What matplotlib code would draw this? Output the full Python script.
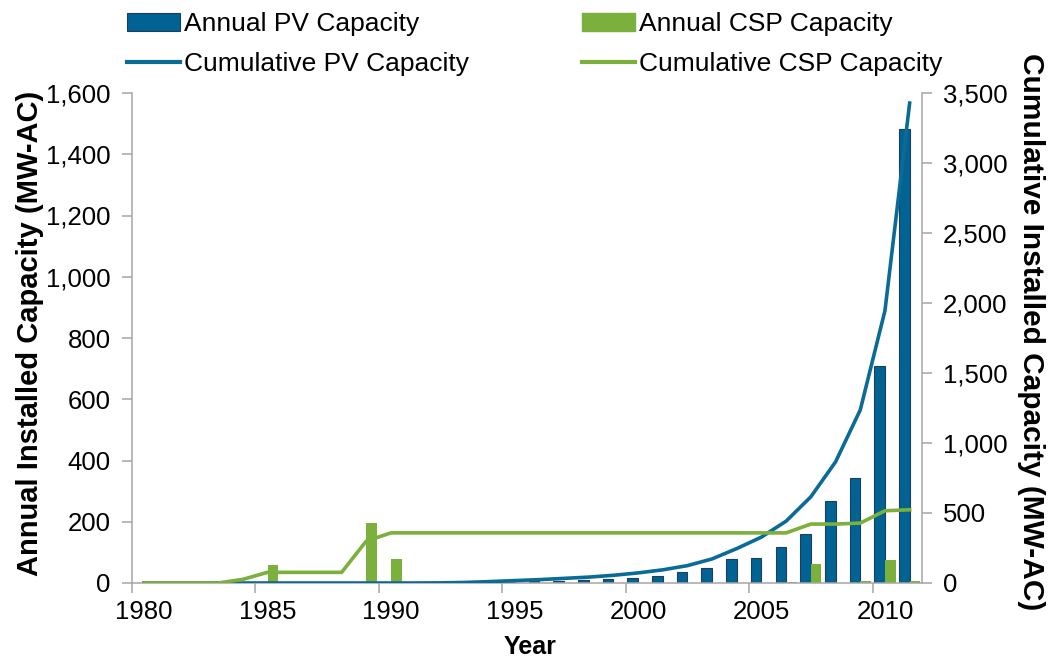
import matplotlib.pyplot as plt
import numpy as np
from matplotlib.patches import Patch
from matplotlib.lines import Line2D
from matplotlib.ticker import FuncFormatter

years = [1980, 1981, 1982, 1983, 1984, 1985, 1986, 1987, 1988, 1989,
         1990, 1991, 1992, 1993, 1994, 1995, 1996, 1997, 1998, 1999,
         2000, 2001, 2002, 2003, 2004, 2005, 2006, 2007, 2008, 2009,
         2010, 2011]

# annual installs, MW-AC (left axis)
annual_pv = [0, 0, 0, 0, 0, 0, 0, 0, 0, 0,
             0, 0, 1, 2, 3, 4, 5, 8, 9, 12,
             15, 24, 36, 49, 78, 82, 117, 161, 267, 343,
             707, 1481]
annual_csp = [0, 0, 0, 0, 0, 59, 0, 0, 0, 197,
              79, 0, 0, 0, 0, 0, 0, 0, 0, 0,
              0, 0, 0, 0, 0, 0, 3, 62, 0, 8,
              76, 8]

# cumulative installs, MW-AC (right axis)
cumulative_pv = [0, 0, 0, 0, 0, 0, 0, 0, 0, 0,
                 0, 0, 1, 4, 10, 17, 24, 33, 42, 55,
                 72, 94, 124, 172, 246, 328, 442, 616, 865, 1236,
                 1945, 3428]
cumulative_csp = [0, 0, 0, 0, 26, 76, 76, 76, 76, 300,
                  358, 358, 358, 358, 358, 358, 358, 358, 358, 358,
                  358, 358, 358, 358, 358, 358, 358, 421, 421, 428,
                  516, 523]

plt.rcParams['font.family'] = ['Liberation Sans', 'DejaVu Sans']

blue = '#006393'
blue_line = '#0B6B97'
blue_edge = '#1E3E5C'
green = '#7AB03B'
grey = '#A6A6A6'

fig = plt.figure(figsize=(10.48, 6.6), dpi=100)
ax = fig.add_axes([131.7 / 1048, 77 / 660, 790.3 / 1048, 490 / 660])
ax2 = ax.twinx()

x = np.arange(len(years))
w = 0.43
ax.bar(x - w / 2, annual_pv, width=w, color=blue, edgecolor=blue_edge,
       linewidth=0.8, zorder=2)
ax.bar(x + w / 2, annual_csp, width=w, color=green, linewidth=0, zorder=2)

ax2.plot(x, cumulative_pv, color=blue_line, lw=2.6)
ax2.plot(x, cumulative_csp, color=green, lw=2.6)

ax.set_xlim(-0.5, len(years) - 0.5)
ax.set_ylim(0, 1600)
ax2.set_ylim(0, 3500)
ax.set_yticks(np.arange(0, 1601, 200))
ax2.set_yticks(np.arange(0, 3501, 500))
comma = FuncFormatter(lambda v, p: f'{int(v):,}')
ax.yaxis.set_major_formatter(comma)
ax2.yaxis.set_major_formatter(comma)

# tick marks sit between categories, labels under every fifth year
label_idx = list(range(0, len(years), 5))
ax.set_xticks([i - 0.5 for i in label_idx])
ax.set_xticklabels([])
ax.set_xticks(label_idx, minor=True)
ax.set_xticklabels([str(years[i]) for i in label_idx], minor=True)

ax.tick_params(axis='x', which='major', direction='out', length=7,
               width=1.1, color=grey)
ax.tick_params(axis='x', which='minor', length=0, pad=12, labelsize=18.5)
ax.tick_params(axis='y', direction='out', length=7, width=1.1, color=grey,
               pad=8, labelsize=18.5)
ax2.tick_params(axis='y', direction='out', length=7, width=1.1, color=grey,
                pad=8, labelsize=18.5)

for s in ['top', 'right']:
    ax.spines[s].set_visible(False)
for s in ['top', 'left', 'bottom']:
    ax2.spines[s].set_visible(False)
for s in ['left', 'bottom']:
    ax.spines[s].set_color(grey)
    ax.spines[s].set_linewidth(1.1)
ax2.spines['right'].set_color(grey)
ax2.spines['right'].set_linewidth(1.1)

fig.text(30 / 1048, 1 - 333 / 660, 'Annual Installed Capacity (MW-AC)',
         rotation=90, ha='center', va='center', fontsize=21, fontweight='bold')
fig.text(1031 / 1048, 1 - 332 / 660, 'Cumulative Installed Capacity (MW-AC)',
         rotation=270, ha='center', va='center', fontsize=21.5,
         fontweight='bold')
fig.text(530 / 1048, 1 - 647 / 660, 'Year', ha='center', va='center',
         fontsize=18, fontweight='bold')

handles = [Patch(facecolor=blue, edgecolor=blue_edge, linewidth=0.8),
           Line2D([], [], color=blue_line, lw=3),
           Patch(facecolor=green, edgecolor=green),
           Line2D([], [], color=green, lw=3)]
labels = ['Annual PV Capacity', 'Cumulative PV Capacity',
          'Annual CSP Capacity', 'Cumulative CSP Capacity']
fig.legend(handles, labels, loc='upper left',
           bbox_to_anchor=(127 / 1048, 1 - 12 / 660), ncol=2, frameon=False,
           fontsize=19, handlelength=2.0, handletextpad=0.15,
           columnspacing=4.3, labelspacing=0.6, borderpad=0,
           borderaxespad=0)

fig.savefig('out.png', dpi=100)
